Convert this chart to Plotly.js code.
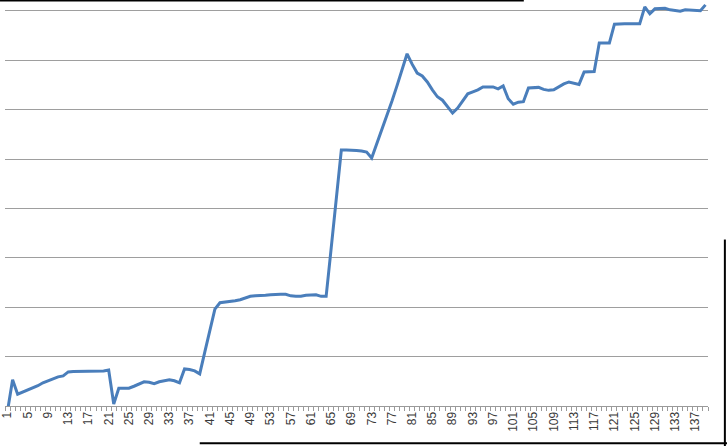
<!DOCTYPE html>
<html>
<head>
<meta charset="utf-8">
<script src="https://cdn.plot.ly/plotly-3.0.1.min.js"></script>
<style>html,body{margin:0;padding:0;background:#fff;}#chart{width:727px;height:446px;}</style>
</head>
<body>
<div id="chart"></div>
<script>
// values (units = one gridline step)
const values = [
  -0.10, 0.53, 0.24, 0.28, 0.32, 0.36, 0.41, 0.47, 0.51, 0.54,
   0.59, 0.61, 0.69, 0.70, 0.70, 0.70, 0.70, 0.70, 0.70, 0.71,
   0.73, 0.04, 0.36, 0.36, 0.36, 0.40, 0.45, 0.49, 0.48, 0.45,
   0.49, 0.51, 0.53, 0.51, 0.47, 0.75, 0.74, 0.71, 0.65, 1.09,
   1.54, 1.96, 2.09, 2.10, 2.11, 2.13, 2.15, 2.19, 2.22, 2.23,
   2.23, 2.24, 2.25, 2.26, 2.26, 2.26, 2.23, 2.22, 2.22, 2.24,
   2.25, 2.25, 2.22, 2.22, 3.20, 4.19, 5.18, 5.18, 5.18, 5.17,
   5.16, 5.14, 5.02, 5.30, 5.59, 5.87, 6.17, 6.48, 6.80, 7.13,
   6.92, 6.74, 6.68, 6.56, 6.40, 6.26, 6.19, 6.05, 5.93, 6.03,
   6.17, 6.32, 6.36, 6.40, 6.46, 6.46, 6.46, 6.42, 6.48, 6.22,
   6.11, 6.15, 6.16, 6.44, 6.45, 6.45, 6.41, 6.39, 6.40, 6.46,
   6.52, 6.56, 6.54, 6.51, 6.76, 6.77, 6.77, 7.35, 7.35, 7.35,
   7.73, 7.74, 7.74, 7.74, 7.74, 7.74, 8.08, 7.94, 8.04, 8.05,
   8.05, 8.02, 8.00, 7.99, 8.02, 8.01, 8.00, 8.00, 8.12
];
const categories = values.map((v, i) => i + 1);
const tickLabels = categories.filter(c => (c - 1) % 4 === 0);

const trace = {
  x: categories,
  y: values,
  type: 'scatter',
  mode: 'lines',
  line: {color: '#4a7ebb', width: 3},
  hoverinfo: 'skip'
};

const layout = {
  width: 727,
  height: 446,
  margin: {l: 5, r: 19, t: 0, b: 40},
  paper_bgcolor: '#ffffff',
  plot_bgcolor: '#ffffff',
  showlegend: false,
  font: {family: 'Liberation Sans, Arial, sans-serif', size: 12, color: '#3a3a3a'},
  xaxis: {
    range: [0.5, 139.5],
    tickmode: 'array',
    tickvals: tickLabels,
    ticktext: tickLabels.map(String),
    tickangle: -90,
    ticks: '',
    showgrid: false,
    zeroline: false,
    showline: true,
    linecolor: '#9a9a9a',
    linewidth: 1,
    tickfont: {size: 12, color: '#3a3a3a'},
    minor: {dtick: 1, tick0: 0.5, ticks: 'outside', ticklen: 4, tickcolor: '#9a9a9a', showgrid: false}
  },
  yaxis: {
    range: [0, 8.219],
    dtick: 1,
    tick0: 0,
    showticklabels: false,
    ticks: '',
    showgrid: true,
    gridcolor: '#9e9e9e',
    gridwidth: 1,
    zeroline: false,
    showline: false
  },
  shapes: [
    {type: 'line', xref: 'paper', yref: 'paper', x0: -0.0071, x1: 0.738, y0: 1.0, y1: 1.0, line: {color: '#000', width: 3}},
    {type: 'line', xref: 'paper', yref: 'paper', x0: 0.277, x1: 1.03, y0: -0.0915, y1: -0.0915, line: {color: '#000', width: 2}},
    {type: 'line', xref: 'paper', yref: 'paper', x0: 1.024, x1: 1.024, y0: 0.41, y1: -0.1, line: {color: '#000', width: 2}}
  ]
};

Plotly.newPlot('chart', [trace], layout, {staticPlot: true, displayModeBar: false});
</script>
</body>
</html>
